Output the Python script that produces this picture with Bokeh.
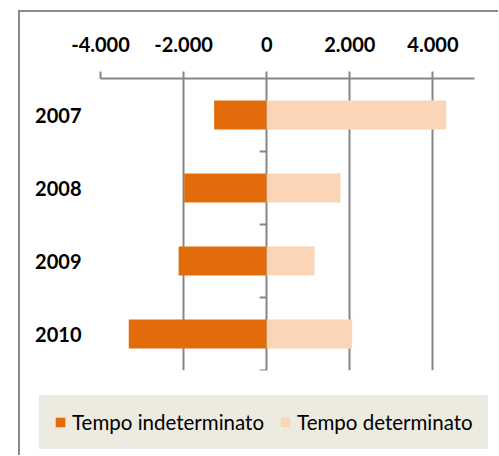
from bokeh.plotting import figure
from bokeh.layouts import column
from bokeh.models import FixedTicker, Legend, LegendItem, ColumnDataSource
from bokeh.embed import file_html
from bokeh.resources import INLINE

years = ["2007", "2008", "2009", "2010"]
tempo_indeterminato = [-1265, -1985, -2120, -3320]
tempo_determinato = [4320, 1776, 1152, 2056]
x_ticks = [-4000, -2000, 0, 2000, 4000]
x_tick_labels = ["-4.000", "-2.000", "0", "2.000", "4.000"]
series_names = ["Tempo indeterminato", "Tempo determinato"]
colors = ["#E36C0A", "#FBD5B5"]

GRAY = "#868686"
LEGEND_BG = "#EDEBE0"

src = ColumnDataSource(dict(y=years, ind=tempo_indeterminato, det=tempo_determinato,
                            zero=[0] * len(years)))

p = figure(width=478, height=372, y_range=years[::-1], x_range=(-4000, 5000),
           output_backend="svg", toolbar_location=None, x_axis_location="above",
           min_border_left=80, min_border_right=24, min_border_top=66, min_border_bottom=14)
p.frame_align = False
p.outline_line_color = None
p.background_fill_color = "white"

r1 = p.hbar(y="y", left="ind", right="zero", height=0.4, source=src,
            fill_color=colors[0], line_color=None)
r2 = p.hbar(y="y", left="zero", right="det", height=0.4, source=src,
            fill_color=colors[1], line_color=None)

# category tick marks on the vertical axis at x = 0
bounds = [(f, -0.5) for f in years]
p.segment(x0=[-170] * len(bounds), x1=[0] * len(bounds), y0=bounds, y1=bounds,
          line_color=GRAY, line_width=2)

p.xaxis.ticker = FixedTicker(ticks=x_ticks)
p.xaxis.major_label_overrides = {t: l for t, l in zip(x_ticks, x_tick_labels)}
p.xaxis.axis_line_color = GRAY
p.xaxis.axis_line_width = 2
p.xaxis.major_tick_line_color = GRAY
p.xaxis.major_tick_line_width = 2
p.xaxis.major_tick_out = 7
p.xaxis.major_tick_in = 0
p.xaxis.minor_tick_line_color = None
p.xaxis.major_label_text_font = "Lato"
p.xaxis.major_label_text_font_style = "bold"
p.xaxis.major_label_text_font_size = "20px"
p.xaxis.major_label_text_color = "black"
p.xaxis.major_label_standoff = 20

p.yaxis.axis_line_color = None
p.yaxis.major_tick_line_color = None
p.yaxis.major_tick_out = 0
p.yaxis.major_tick_in = 0
p.yaxis.minor_tick_line_color = None
p.yaxis.major_label_text_font = "Lato"
p.yaxis.major_label_text_font_style = "bold"
p.yaxis.major_label_text_font_size = "20px"
p.yaxis.major_label_text_color = "black"
p.yaxis.major_label_standoff = 19

p.xgrid.ticker = FixedTicker(ticks=x_ticks)
p.xgrid.grid_line_color = GRAY
p.xgrid.grid_line_width = 2
p.ygrid.grid_line_color = None

# legend strip below the chart (own canvas so the legend box is not clipped)
pl = figure(width=478, height=71, y_range=years[::-1], x_range=(-4000, 5000),
            output_backend="svg", toolbar_location=None,
            x_axis_location=None, y_axis_location=None,
            min_border_left=8, min_border_right=0, min_border_top=0, min_border_bottom=0)
pl.frame_align = False
pl.outline_line_color = None
pl.xgrid.grid_line_color = None
pl.ygrid.grid_line_color = None
k1 = pl.hbar(y="y", left="ind", right="zero", height=0.4, source=src,
             fill_color=colors[0], line_color=None, visible=False)
k2 = pl.hbar(y="y", left="zero", right="det", height=0.4, source=src,
             fill_color=colors[1], line_color=None, visible=False)
legend = Legend(items=[LegendItem(label=series_names[0], renderers=[k1]),
                       LegendItem(label=series_names[1], renderers=[k2])],
                location="top_left", orientation="horizontal",
                background_fill_color=LEGEND_BG, background_fill_alpha=1,
                border_line_color=LEGEND_BG, border_line_width=15,
                border_line_join="miter",
                label_text_font="Lato", label_text_font_size="20.5px",
                label_text_color="black", label_height=21,
                glyph_width=12, glyph_height=12, label_standoff=6,
                spacing=15, padding=0, margin=11,
                inactive_fill_alpha=0)
pl.add_layout(legend)

layout = column(p, pl, spacing=0)
# chart-area border: only its top and left edges are inside the window
layout.styles = {"border-left": "2px solid #8a8a8a", "border-top": "2px solid #8a8a8a",
                 "margin-left": "18px", "margin-top": "10px"}

open("out.html", "w").write(file_html(layout, INLINE))
